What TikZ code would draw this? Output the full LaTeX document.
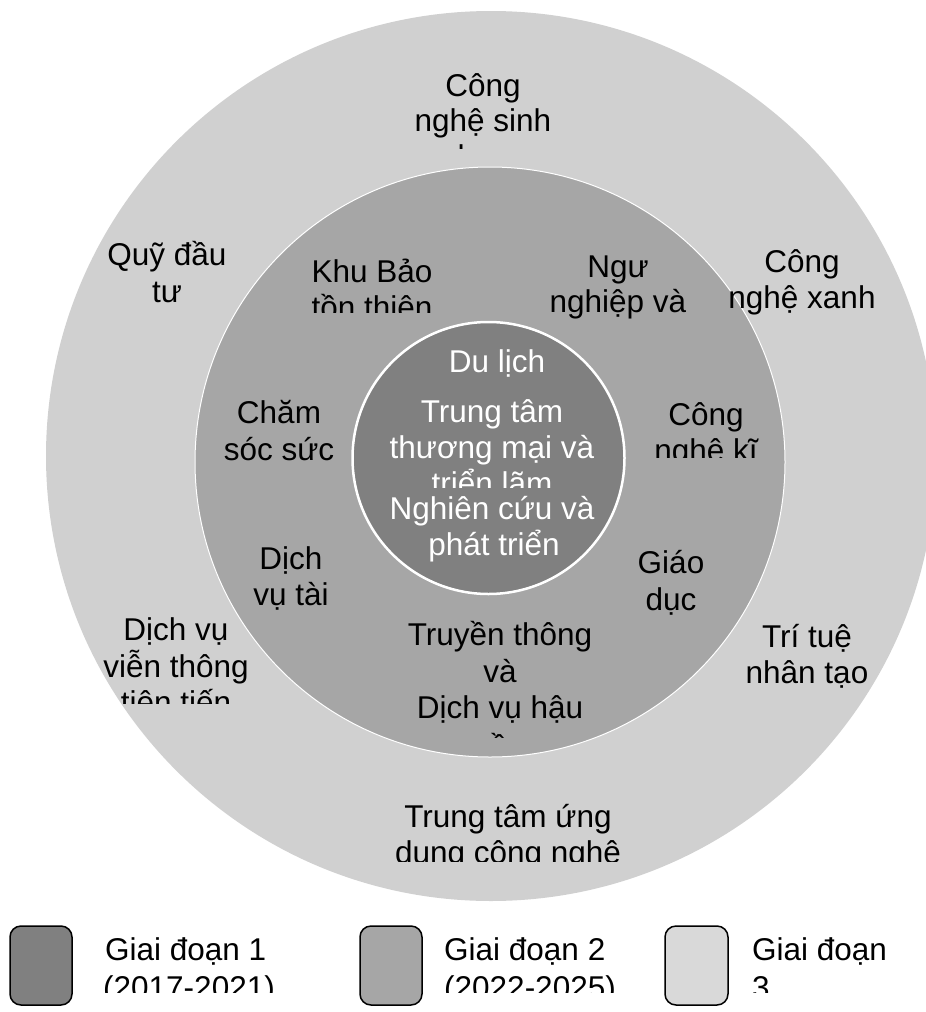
\documentclass[tikz,border=0pt]{standalone}
\usepackage{fontspec}
\setmainfont{Liberation Sans}
\definecolor{gone}{RGB}{128,128,128}
\definecolor{gtwo}{RGB}{166,166,166}
\definecolor{gthree}{RGB}{208,208,208}
\definecolor{gthreel}{RGB}{217,217,217}
\tikzset{
  lbl/.style={anchor=base, inner sep=0pt, font=\fontsize{31.5}{36}\selectfont, text=black},
  wlbl/.style={lbl, text=white},
  leglbl/.style={lbl, anchor=base west},
  legbox/.style={draw=black, line width=1.5pt, rounded corners=11pt}
}
\begin{document}
\begin{tikzpicture}[x=1pt,y=-1pt]
\useasboundingbox (0,0) rectangle (926,1012);
\clip (0,0) rectangle (926,1012);
% rings
\fill[gthree] (491,456) circle (445pt);
\draw[white, line width=1pt, fill=gtwo] (490,462) circle (295pt);
\draw[white, line width=2.5pt, fill=gone] (488.5,458) circle (136pt);

% outer ring labels
\node[lbl] (o1a) at (483,96) {Công};
\node[lbl] (o1b) at (483,131) {nghệ sinh};
\begin{scope}\clip (0,0) rectangle (926,148);
\node[lbl] (o1c) at (483,167) {học};
\end{scope}
\node[lbl] (o2a) at (167,265) {Quỹ đầu};
\node[lbl] (o2b) at (167,302) {tư};
\node[lbl] (o3a) at (802,272) {Công};
\node[lbl] (o3b) at (802,308) {nghệ xanh};
\node[lbl] (o4a) at (176,640) {Dịch vụ};
\node[lbl] (o4b) at (176,677) {viễn thông};
\begin{scope}\clip (0,0) rectangle (926,703);
\node[lbl] (o4c) at (176,713) {tiên tiến};
\end{scope}
\node[lbl] (o5a) at (807,647) {Trí tuệ};
\node[lbl] (o5b) at (807,683) {nhân tạo};
\node[lbl] (o6a) at (508,827) {Trung tâm ứng};
\begin{scope}\clip (0,0) rectangle (926,861);
\node[lbl] (o6b) at (508,863) {dụng công nghệ};
\end{scope}

% middle ring labels
\node[lbl] (m1a) at (372,282) {Khu Bảo};
\begin{scope}\clip (0,0) rectangle (926,312);
\node[lbl] (m1b) at (372,318) {tồn thiên};
\end{scope}
\node[lbl] (m2a) at (618,277) {Ngư};
\node[lbl] (m2b) at (618,312) {nghiệp và};
\node[lbl] (m3a) at (279,423) {Chăm};
\node[lbl] (m3b) at (279,460) {sóc sức};
\node[lbl] (m4a) at (706,425) {Công};
\begin{scope}\clip (0,0) rectangle (926,457);
\node[lbl] (m4b) at (706,461) {nghệ kĩ};
\end{scope}
\node[lbl] (m5a) at (291,569) {Dịch};
\node[lbl] (m5b) at (291,605) {vụ tài};
\node[lbl] (m6a) at (671,573) {Giáo};
\node[lbl] (m6b) at (671,610) {dục};
\node[lbl] (m7a) at (500,645) {Truyền thông};
\node[lbl] (m7b) at (500,682) {và};
\node[lbl] (m7c) at (500,718) {Dịch vụ hậu};
\begin{scope}\clip (0,0) rectangle (926,737);
\node[lbl] (m7d) at (500,757) {cần};
\end{scope}

% inner circle labels
\node[wlbl] (i1) at (497,372) {Du lịch};
\node[wlbl] (i2a) at (492,422) {Trung tâm};
\node[wlbl] (i2b) at (492,458) {thương mại và};
\begin{scope}\clip (0,0) rectangle (926,487);
\node[wlbl] (i2c) at (492,494) {triển lãm};
\end{scope}
\node[wlbl] (i3a) at (492,519) {Nghiên cứu và};
\node[wlbl] (i3b) at (494,555) {phát triển};

% legend
\draw[legbox, fill=gone] (10,926) rectangle (72,1005);
\draw[legbox, fill=gtwo] (360,926) rectangle (422,1005);
\draw[legbox, fill=gthreel] (665,926) rectangle (728,1005);
\node[leglbl] (l1a) at (105,960) {Giai đoạn 1};
\node[leglbl] (l2a) at (444,960) {Giai đoạn 2};
\node[leglbl] (l3a) at (752,960) {Giai đoạn};
\begin{scope}\clip (0,0) rectangle (926,992);
\node[leglbl] (l1b) at (103,998) {(2017-2021)};
\node[leglbl] (l2b) at (444,998) {(2022-2025)};
\node[leglbl] (l3b) at (752,998) {3};
\end{scope}
\end{tikzpicture}
\end{document}
